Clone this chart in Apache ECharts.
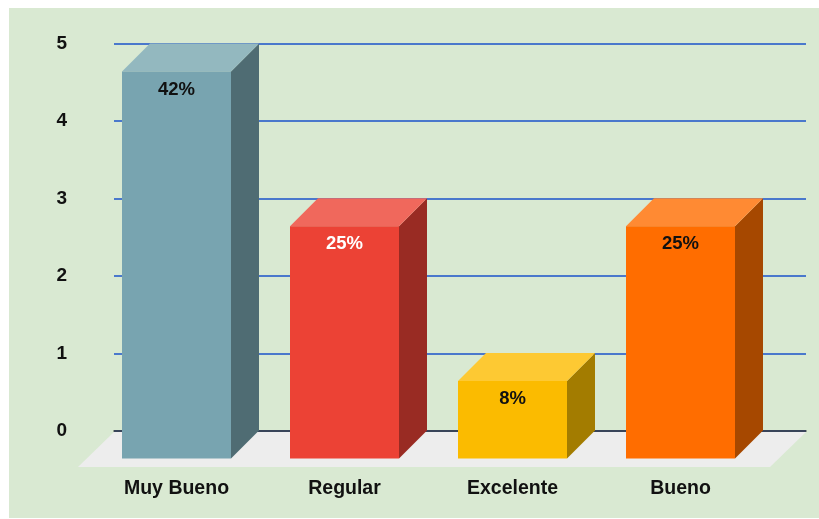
<!DOCTYPE html>
<html>
<head>
<meta charset="utf-8">
<style>
html,body{margin:0;padding:0;background:#fff;width:819px;height:519px;overflow:hidden}
#bg{position:absolute;left:9px;top:8px;width:810px;height:510px;background:#d9e9d2}
#chart{position:absolute;left:0;top:0;width:819px;height:519px}
</style>
<script src="https://cdn.jsdelivr.net/npm/echarts@6/dist/echarts.min.js"></script>
</head>
<body>
<div id="bg"></div>
<div id="chart"></div>
<script>
const categories = ['Muy Bueno', 'Regular', 'Excelente', 'Bueno'];
const values = [5, 3, 1, 3];
const percentLabels = ['42%', '25%', '8%', '25%'];
const yTicks = [0, 1, 2, 3, 4, 5];

const frontColors = ['#78a4b0', '#ec4235', '#fbbb00', '#ff6d00'];
const topColors = ['#93b8bf', '#f0685c', '#fdc933', '#ff8a33'];
const sideColors = ['#4f6c73', '#992b23', '#a37c00', '#a64800'];
const labelColors = ['#111', '#fff', '#111', '#111'];

const DEPTH = 28;
const FLOOR = 36;
const BAR_RATIO = 109 / 168;
const FONT = '"Liberation Sans", Arial, sans-serif';

const chart = echarts.init(document.getElementById('chart'), null, {renderer: 'canvas', width: 819, height: 519});

chart.setOption({
  animation: false,
  backgroundColor: 'transparent',
  grid: [
    {left: 114, right: 13, top: 43.5, bottom: 88},
    {left: 92.5, right: 54.5, top: 71.5, bottom: 60.5}
  ],
  xAxis: [
    {gridIndex: 0, type: 'category', data: categories,
     axisTick: {show: false}, axisLabel: {show: false},
     axisLine: {show: true, lineStyle: {color: '#333', width: 1.5}}},
    {gridIndex: 1, type: 'category', data: categories,
     axisTick: {show: false}, axisLine: {show: false},
     axisLabel: {margin: 21, color: '#111', fontFamily: FONT, fontWeight: 'bold', fontSize: 19.5, lineHeight: 19}}
  ],
  yAxis: [
    {gridIndex: 0, type: 'value', min: 0, max: 5, interval: 1,
     axisLine: {show: false}, axisTick: {show: false},
     splitLine: {show: true, lineStyle: {color: '#4a78cc', width: 2}},
     axisLabel: {margin: 47, color: '#111', fontFamily: FONT, fontWeight: 'bold', fontSize: 19,
       formatter: v => String(yTicks[v])}},
    {gridIndex: 1, type: 'value', min: 0, max: 5, interval: 1, show: false}
  ],
  series: [
    {
      type: 'custom', xAxisIndex: 0, yAxisIndex: 0, z: 1, silent: true,
      data: [[0, 0]],
      renderItem(params) {
        const c = params.coordSys, b = c.y + c.height + 1;
        return {type: 'polygon', shape: {points: [
          [c.x, b], [c.x + c.width, b],
          [c.x + c.width - FLOOR, b + FLOOR - 1], [c.x - FLOOR, b + FLOOR - 1]
        ]}, style: {fill: '#ededed'}};
      }
    },
    {
      type: 'custom', xAxisIndex: 1, yAxisIndex: 1, z: 3, silent: true,
      data: values.map((v, i) => [i, v]),
      encode: {x: 0, y: 1},
      renderItem(params, api) {
        const i = api.value(0);
        const top = api.coord([i, api.value(1)]);
        const base = api.coord([i, 0]);
        const w = api.size([1, 0])[0] * BAR_RATIO;
        const l = top[0] - w / 2, r = top[0] + w / 2;
        return {type: 'group', children: [
          {type: 'polygon', shape: {points: [[r, top[1]], [r + DEPTH, top[1] - DEPTH], [r + DEPTH, base[1] - DEPTH], [r, base[1]]]},
           style: {fill: sideColors[i]}},
          {type: 'polygon', shape: {points: [[l, top[1]], [l + DEPTH, top[1] - DEPTH], [r + DEPTH, top[1] - DEPTH], [r, top[1]]]},
           style: {fill: topColors[i]}},
          {type: 'rect', shape: {x: l, y: top[1], width: w, height: base[1] - top[1]},
           style: {fill: frontColors[i]}},
          {type: 'text', x: top[0], y: top[1] + 18,
           style: {text: percentLabels[i], align: 'center', verticalAlign: 'middle',
             fill: labelColors[i], font: 'bold 18.5px ' + FONT}}
        ]};
      }
    }
  ]
});
</script>
</body>
</html>
